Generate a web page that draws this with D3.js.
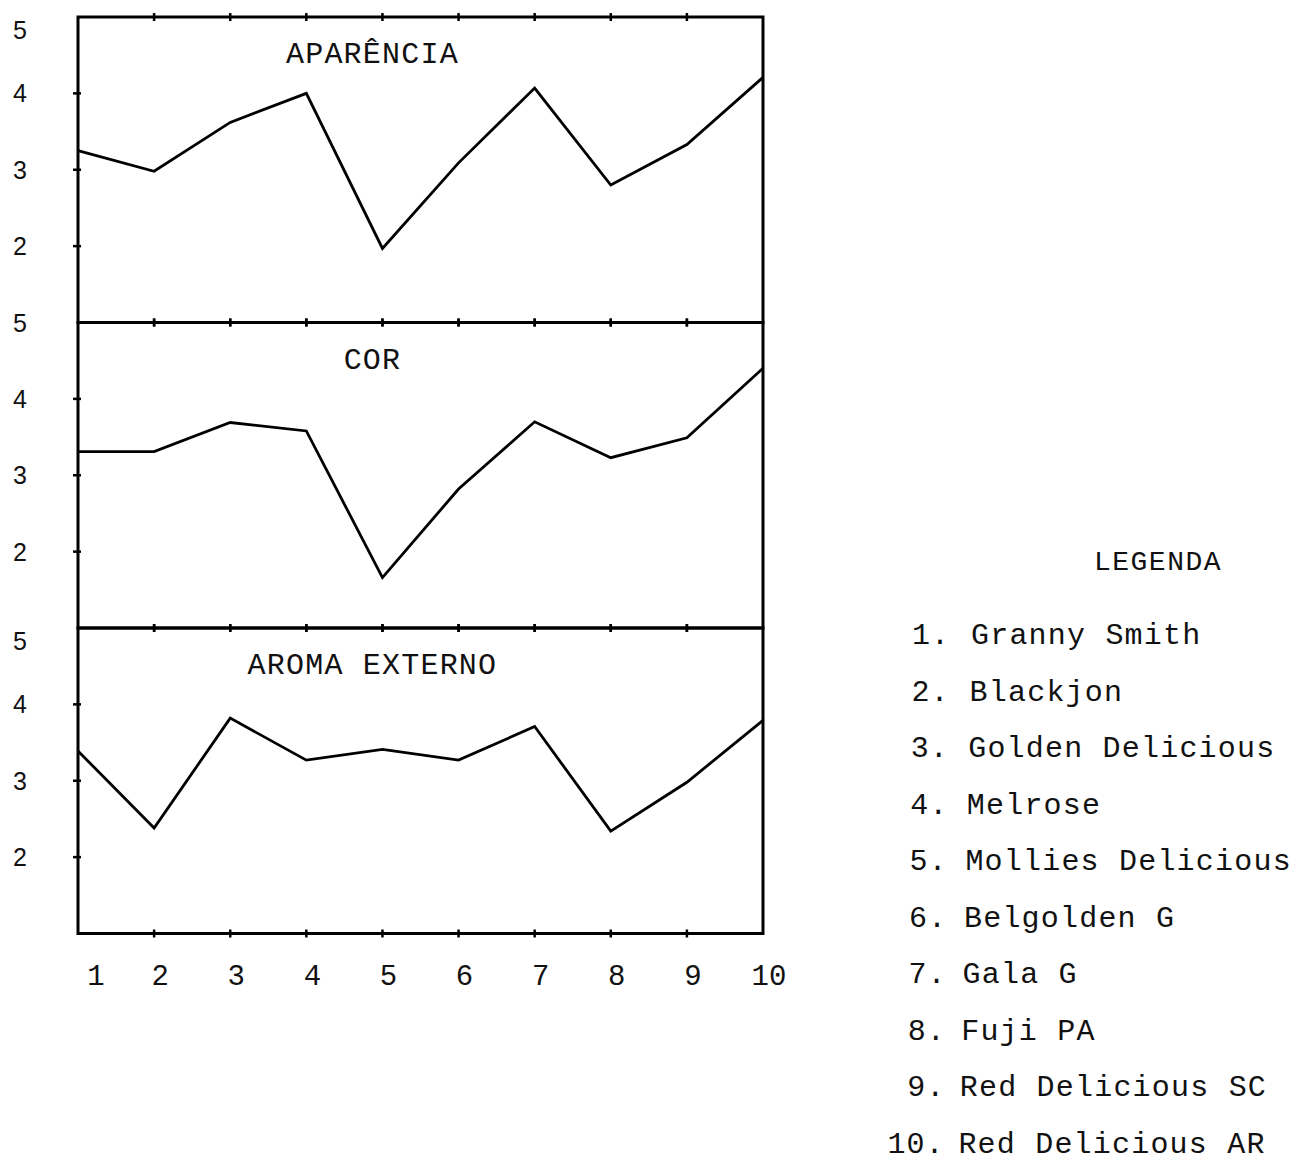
<!DOCTYPE html>
<html>
<head>
<meta charset="utf-8">
<script src="https://cdn.jsdelivr.net/npm/d3@7"></script>
<style>
  html, body { margin: 0; padding: 0; background: #fff; }
  svg { display: block; }
</style>
</head>
<body>
<svg id="chart" width="1298" height="1161"></svg>
<script>
// ---- data ----
const categories = [1, 2, 3, 4, 5, 6, 7, 8, 9, 10];
const panelTitles = ["APARÊNCIA", "COR", "AROMA EXTERNO"];
const aparencia = [3.25, 2.98, 3.62, 4.00, 1.97, 3.09, 4.07, 2.80, 3.33, 4.21];
const cor       = [3.31, 3.31, 3.69, 3.58, 1.66, 2.82, 3.70, 3.23, 3.49, 4.40];
const aroma     = [3.39, 2.38, 3.82, 3.27, 3.41, 3.27, 3.71, 2.34, 2.98, 3.79];
const yTickValues = [2, 3, 4, 5];
const xTickLabels = ["1", "2", "3", "4", "5", "6", "7", "8", "9", "10"];
const legendTitle = "LEGENDA";
const legendNumbers = ["1.", "2.", "3.", "4.", "5.", "6.", "7.", "8.", "9.", "10."];
const legendNames = ["Granny Smith", "Blackjon", "Golden Delicious", "Melrose",
  "Mollies Delicious", "Belgolden G", "Gala G", "Fuji PA", "Red Delicious SC", "Red Delicious AR"];

const seriesList = [aparencia, cor, aroma];

// ---- layout ----
const svg = d3.select("#chart");
const left = 78, right = 763;
const top0 = 17, panelH = 305.5;
const mono = "'Liberation Mono', 'Courier New', monospace";
const sans = "'Liberation Sans', Arial, sans-serif";

const x = d3.scaleLinear().domain([1, 10]).range([left, right]);

seriesList.forEach((vals, i) => {
  const pTop = top0 + i * panelH;
  const y = d3.scaleLinear().domain([1, 5]).range([pTop + panelH, pTop]);
  const g = svg.append("g");

  // frame
  g.append("rect")
    .attr("x", left).attr("y", pTop)
    .attr("width", right - left).attr("height", panelH)
    .attr("fill", "none").attr("stroke", "#000").attr("stroke-width", 3);

  // left y ticks
  g.selectAll("line.yt").data([2, 3, 4]).join("line")
    .attr("x1", left - 5).attr("x2", left + 3)
    .attr("y1", d => y(d)).attr("y2", d => y(d))
    .attr("stroke", "#000").attr("stroke-width", 2.5);

  // y labels (the typed "5" sits a little below the frame top)
  g.selectAll("text.yl").data(yTickValues).join("text")
    .attr("x", 20).attr("y", d => y(d) + (d === 5 && i !== 1 ? 13 : 0))
    .attr("dy", "0.36em")
    .attr("text-anchor", "middle")
    .attr("font-family", sans).attr("font-size", 25)
    .attr("fill", "#111")
    .text(d => d);

  // x ticks on top and bottom borders
  [pTop, pTop + panelH].forEach(yy => {
    g.selectAll(null).data(categories.slice(1, 9)).join("line")
      .attr("x1", d => x(d)).attr("x2", d => x(d))
      .attr("y1", yy - 4).attr("y2", yy + 4)
      .attr("stroke", "#000").attr("stroke-width", 2.5);
  });

  // title
  g.append("text")
    .attr("x", x(5) - 10).attr("y", pTop + 46)
    .attr("text-anchor", "middle")
    .attr("font-family", mono).attr("font-size", 30)
    .attr("letter-spacing", 1.2)
    .attr("fill", "#111")
    .text(panelTitles[i]);

  // line
  const line = d3.line().x((d, j) => x(categories[j])).y(d => y(d));
  g.append("path")
    .attr("d", line(vals))
    .attr("fill", "none").attr("stroke", "#000")
    .attr("stroke-width", 2.8).attr("stroke-linejoin", "miter");
});

// x labels
const bottom = top0 + 3 * panelH;
svg.selectAll("text.xl").data(categories).join("text")
  .attr("x", d => x(d) + (d === 1 ? 18 : 6))
  .attr("y", bottom + 51)
  .attr("text-anchor", "middle")
  .attr("font-family", mono).attr("font-size", 29)
  .attr("fill", "#111")
  .text((d, i) => xTickLabels[i]);

// legend
svg.append("text")
  .attr("x", 1158).attr("y", 570)
  .attr("text-anchor", "middle")
  .attr("font-family", mono).attr("font-size", 28)
  .attr("letter-spacing", 1.5)
  .attr("fill", "#111")
  .text(legendTitle);

const rowY = d3.scaleLinear().domain([0, 9]).range([644, 1153]);
const lg = svg.append("g");
lg.selectAll("text.num").data(legendNumbers).join("text")
  .attr("x", (d, i) => 950 - i * 0.6).attr("y", (d, i) => rowY(i))
  .attr("text-anchor", "end")
  .attr("font-family", mono).attr("font-size", 30)
  .attr("letter-spacing", 1)
  .attr("fill", "#111")
  .text(d => d);
lg.selectAll("text.name").data(legendNames).join("text")
  .attr("x", (d, i) => 971 - i * 1.4).attr("y", (d, i) => rowY(i))
  .attr("font-family", mono).attr("font-size", 30)
  .attr("letter-spacing", 1.2)
  .attr("fill", "#111")
  .text(d => d);
</script>
</body>
</html>
